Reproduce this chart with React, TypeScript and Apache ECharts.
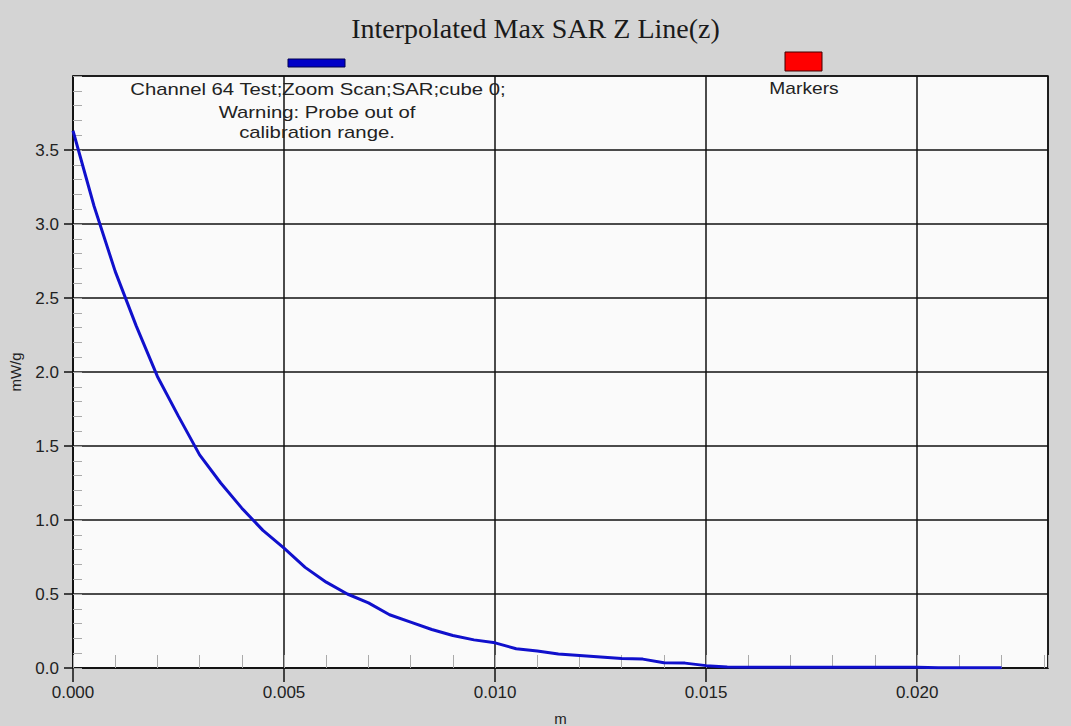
import React, { useEffect, useRef } from "react";
import * as echarts from "echarts";

const xValues: number[] = [
  0, 0.0005, 0.001, 0.0015, 0.002, 0.0025, 0.003, 0.0035, 0.004, 0.0045, 0.005,
  0.0055, 0.006, 0.0065, 0.007, 0.0075, 0.008, 0.0085, 0.009, 0.0095, 0.01,
  0.0105, 0.011, 0.0115, 0.012, 0.0125, 0.013, 0.0135, 0.014, 0.0145, 0.015,
  0.0155, 0.016, 0.0165, 0.017, 0.0175, 0.018, 0.0185, 0.019, 0.0195, 0.02,
  0.0205, 0.021, 0.0215, 0.022,
];
const sarValues: number[] = [
  3.63, 3.12, 2.68, 2.31, 1.97, 1.7, 1.44, 1.25, 1.08, 0.93, 0.81,
  0.68, 0.58, 0.5, 0.44, 0.36, 0.31, 0.26, 0.22, 0.19, 0.17,
  0.13, 0.115, 0.095, 0.085, 0.075, 0.065, 0.06, 0.035, 0.033, 0.016,
  0.006, 0.005, 0.005, 0.005, 0.005, 0.005, 0.005, 0.005, 0.005, 0.005,
  0.002, 0.001, 0.001, 0.001,
];

const titleText = "Interpolated Max SAR Z Line(z)";
const seriesName = "Channel 64 Test;Zoom Scan;SAR;cube 0;";
const markersName = "Markers";
const warningLines = ["Warning: Probe out of", "calibration range."];
const xAxisName = "m";
const yAxisName = "mW/g";

const SANS = "Arial, 'Liberation Sans', sans-serif";

function label(text: string, x: number, y: number, sx: number, size = 16) {
  return {
    type: "text",
    x,
    y,
    scaleX: sx,
    z: 100,
    style: {
      text,
      fontFamily: SANS,
      fontSize: size,
      fill: "#222",
      align: "center",
      verticalAlign: "middle",
    },
  };
}

export default function App() {
  const ref = useRef<HTMLDivElement>(null);
  useEffect(() => {
    document.body.style.margin = "0";
    const chart = echarts.init(ref.current!, null, { renderer: "svg" });
    const data = xValues.map((x, i) => [x, sarValues[i]]);
    const xMax = 0.0231;
    const yMax = 4.0;
    chart.setOption({
      animation: false,
      backgroundColor: "#d4d4d4",
      title: {
        text: titleText,
        left: "center",
        top: 9,
        textStyle: {
          fontFamily: "'Liberation Serif', 'Times New Roman', serif",
          fontSize: 28,
          fontWeight: "normal",
          color: "#1a1a1a",
        },
      },
      grid: {
        left: 73,
        right: 23,
        top: 76,
        bottom: 58,
        containLabel: false,
        outerBoundsMode: "none",
        show: true,
        backgroundColor: "#fafafa",
        borderColor: "#111",
        borderWidth: 1.5,
      },
      xAxis: [
        {
          type: "value",
          min: 0,
          max: xMax,
          interval: 0.005,
          name: xAxisName,
          nameLocation: "middle",
          nameGap: 43,
          nameTextStyle: { fontFamily: SANS, fontSize: 15, color: "#222" },
          axisLine: { show: true, lineStyle: { color: "#111", width: 1.5 } },
          axisTick: { show: true, length: 14, lineStyle: { color: "#111", width: 1.5 } },
          axisLabel: {
            fontFamily: SANS,
            fontSize: 17,
            color: "#222",
            margin: 16,
            showMaxLabel: false,
            formatter: (v: number) => v.toFixed(3),
          },
          splitLine: { show: true, lineStyle: { color: "#111", width: 1.5 } },
        },
        {
          type: "value",
          min: 0,
          max: xMax,
          interval: 0.001,
          position: "bottom",
          axisLine: { show: false },
          axisTick: { show: true, inside: true, length: 13, lineStyle: { color: "#aaa", width: 1 } },
          axisLabel: { show: false },
          splitLine: { show: false },
        },
      ],
      yAxis: [
        {
          type: "value",
          min: 0,
          max: yMax,
          interval: 0.5,
          name: yAxisName,
          nameLocation: "middle",
          nameGap: 50,
          nameTextStyle: { fontFamily: SANS, fontSize: 15, color: "#222" },
          axisLine: { show: true, lineStyle: { color: "#111", width: 1.5 } },
          axisTick: { show: true, length: 9, lineStyle: { color: "#111", width: 1.5 } },
          axisLabel: {
            fontFamily: SANS,
            fontSize: 17,
            color: "#222",
            margin: 14,
            showMaxLabel: false,
            formatter: (v: number) => v.toFixed(1),
          },
          splitLine: { show: true, lineStyle: { color: "#111", width: 1.5 } },
        },
        {
          type: "value",
          min: 0,
          max: yMax,
          interval: 0.1,
          position: "left",
          axisLine: { show: false },
          axisTick: { show: true, inside: true, length: 9, lineStyle: { color: "#aaa", width: 1 } },
          axisLabel: { show: false },
          splitLine: { show: false },
        },
      ],
      series: [
        {
          name: seriesName,
          type: "line",
          data,
          showSymbol: false,
          smooth: false,
          lineStyle: { color: "#1010cc", width: 3 },
        },
      ],
      graphic: [
        {
          type: "rect",
          shape: { x: 288, y: 59, width: 57, height: 8 },
          style: { fill: "#0000c8", stroke: "#000050", lineWidth: 1 },
        },
        label(seriesName, 318, 89, 1.27),
        {
          type: "rect",
          shape: { x: 785, y: 52, width: 37, height: 19 },
          style: { fill: "#ff0000", stroke: "#400000", lineWidth: 1 },
        },
        label(markersName, 804, 89, 1.2),
        label(warningLines[0], 317, 112, 1.27),
        label(warningLines[1], 317, 132, 1.27),
      ],
    });
    return () => chart.dispose();
  }, []);
  return <div ref={ref} style={{ width: 1071, height: 726 }} />;
}
